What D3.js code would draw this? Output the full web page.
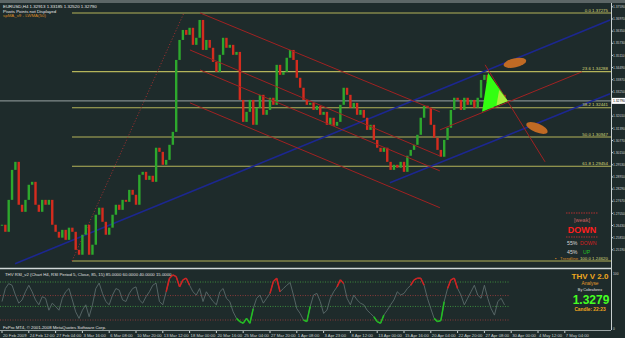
<!DOCTYPE html>
<html>
<head>
<meta charset="utf-8">
<script src="https://cdn.jsdelivr.net/npm/d3@7"></script>
<style>
body { margin: 0; background: #1e2b2b; overflow: hidden; }
svg { display: block; }
text { font-family: "Liberation Sans", Arial, sans-serif; }
</style>
</head>
<body>
<script>

// EURUSD H4 closes, one value per 8 hours
var closes = [
  1.2647, 1.2611, 1.2774, 1.2927, 1.2968, 1.2749, 1.2713, 1.2774, 1.2851, 1.2866,
  1.2749, 1.2713, 1.2774, 1.2749, 1.2774, 1.2647, 1.2611, 1.2581, 1.2621, 1.2570,
  1.2632, 1.2611, 1.2519, 1.2494, 1.2596, 1.2647, 1.2494, 1.2545, 1.2698, 1.2734,
  1.2662, 1.2596, 1.2632, 1.2698, 1.2749, 1.2723, 1.2774, 1.2764, 1.2825, 1.2800,
  1.2749, 1.2902, 1.2917, 1.2876, 1.2897, 1.2866, 1.3040, 1.3019, 1.2953, 1.2978,
  1.3055, 1.3121, 1.3488, 1.3590, 1.3641, 1.3616, 1.3652, 1.3565, 1.3601, 1.3692,
  1.3539, 1.3590, 1.3550, 1.3478, 1.3427, 1.3514, 1.3601, 1.3550, 1.3565, 1.3514,
  1.3529, 1.3284, 1.3172, 1.3223, 1.3284, 1.3157, 1.3244, 1.3310, 1.3208, 1.3233,
  1.3295, 1.3259, 1.3463, 1.3412, 1.3427, 1.3499, 1.3539, 1.3488, 1.3397, 1.3346,
  1.3284, 1.3259, 1.3269, 1.3233, 1.3254, 1.3208, 1.3223, 1.3157, 1.3193, 1.3152,
  1.3172, 1.3259, 1.3346, 1.3310, 1.3244, 1.3269, 1.3208, 1.3233, 1.3193, 1.3131,
  1.3157, 1.3080, 1.3040, 1.3019, 1.3040, 1.2968, 1.2927, 1.2953, 1.2938, 1.2968,
  1.2917, 1.2999, 1.3029, 1.3055, 1.3106, 1.3193, 1.3254, 1.3244, 1.3157, 1.3091,
  1.3029, 1.2994, 1.3080, 1.3142, 1.3233, 1.3295, 1.3284, 1.3233, 1.3295, 1.3259,
  1.3284, 1.3244, 1.3295, 1.3386, 1.3412, 1.3376, 1.3310, 1.3335, 1.3295, 1.3310,
  1.3279
];

var rsi = [
  49, 73, 82, 79, 61, 46, 52, 67, 79, 67,
  52, 43, 58, 55, 33, 46, 40, 33, 55, 67,
  73, 52, 30, 18, 33, 43, 21, 43, 73, 83,
  64, 49, 43, 61, 73, 70, 52, 49, 64, 73,
  76, 52, 46, 58, 67, 79, 83, 49, 43, 67,
  92, 98, 95, 76, 89, 92, 79, 67, 61, 73,
  49, 67, 58, 49, 43, 67, 73, 55, 49, 30,
  18, 12, 9, 18, 9, 36, 55, 61, 46, 55,
  64, 86, 92, 67, 73, 79, 84, 61, 36, 27,
  15, 12, 40, 61, 64, 49, 27, 33, 55, 67,
  76, 89, 82, 55, 43, 61, 52, 46, 43, 33,
  27, 21, 12, 9, 24, 33, 43, 52, 67, 61,
  64, 73, 79, 89, 92, 92, 79, 55, 36, 18,
  12, 14, 49, 73, 89, 92, 73, 61, 43, 55,
  67, 79, 61, 55, 79, 55, 36, 24, 49, 55,
  43
];

var timeLabels = ["20 Feb 2009", "24 Feb 12:00", "27 Feb 04:00", "3 Mar 16:00", "6 Mar 08:00",
  "10 Mar 20:00", "13 Mar 12:00", "18 Mar 00:00", "20 Mar 16:00", "25 Mar 04:00", "27 Mar 20:00",
  "1 Apr 08:00", "3 Apr 23:00", "8 Apr 12:00", "13 Apr 00:00", "15 Apr 16:00", "20 Apr 04:00",
  "22 Apr 20:00", "27 Apr 08:00", "30 Apr 00:00", "4 May 12:00", "7 May 04:00"];

var priceTicks = [1.3759, 1.3697, 1.3635, 1.3573, 1.3511, 1.3449, 1.3387, 1.3325, 1.3201,
  1.3139, 1.3077, 1.3015, 1.2953, 1.2891, 1.2829, 1.2767, 1.2705, 1.2643, 1.2581, 1.2519];

var fibLevels = [0, 23.6, 38.2, 50, 61.8, 100];
var fibHigh = 1.37275, fibLow = 1.24620;
var rsiLevels = [85, 60, 40, 15];

// hand drawn objects, in [bar index, price]
var redLines = [
  [[59.1, 1.3728], [130.7, 1.3223]],
  [[56.1, 1.3539], [130.7, 1.2998]],
  [[59.1, 1.3437], [130.7, 1.2922]],
  [[56.1, 1.3269], [130.7, 1.2734]],
  [[144.2, 1.3463], [162.1, 1.2968]],
  [[130.7, 1.3131], [173.1, 1.3427]]
];
var blueLines = [
  [[3.9, 1.2448], [181.5, 1.3692]],
  [[115.8, 1.2861], [181.5, 1.3315]]
];
var ellipses = [[153.1, 1.3473, -12], [159.7, 1.3141, 22]];
var triangle = [[145.1, 1.3422], [143.3, 1.3223], [151, 1.3279]];

var W = 625, H = 338;
var svg = d3.select('body').append('svg')
            .attr('width', W)
            .attr('height', H);

var x = d3.scaleLinear().domain([0, 168]).range([2, 564.8]);
var y = d3.scaleLinear().domain([fibLow, fibHigh]).range([261, 13]);
var yr = d3.scaleLinear().domain([15, 85]).range([320, 282]);

var axisRight = 611;

svg.append('rect').attr('width', W).attr('height', H).attr('fill', '#1e2b2b');

var main = svg.append('g');
main.append('clipPath').attr('id', 'mainClip')
    .append('rect').attr('x', 0).attr('y', 3).attr('width', axisRight).attr('height', 265);
var plot = main.append('g').attr('clip-path', 'url(#mainClip)');

// fibonacci levels
var fibStart = x(20.9);
fibLevels.forEach(function(f) {
  var p = fibHigh - f / 100 * (fibHigh - fibLow);
  plot.append('line')
      .attr('x1', fibStart).attr('x2', axisRight)
      .attr('y1', y(p)).attr('y2', y(p))
      .attr('stroke', '#b4b45a').attr('stroke-width', 1.2);
  svg.append('text')
      .attr('x', 608).attr('y', y(p) - 1.5)
      .attr('text-anchor', 'end')
      .attr('font-size', 4.4)
      .attr('fill', '#d8d878')
      .text((f === 0 ? '0.0' : f.toFixed(1)) + ' ' + p.toFixed(5));
});

// dotted fib trendline
plot.append('line')
    .attr('x1', x(20.9)).attr('y1', y(fibLow))
    .attr('x2', x(54.3)).attr('y2', y(fibHigh))
    .attr('stroke', '#a83030').attr('stroke-width', 1)
    .attr('stroke-dasharray', '1,2');

// bid line
plot.append('line')
    .attr('x1', 0).attr('x2', axisRight)
    .attr('y1', y(closes[closes.length - 1])).attr('y2', y(closes[closes.length - 1]))
    .attr('stroke', '#9aa4a4').attr('stroke-width', 1);

blueLines.forEach(function(l) {
  plot.append('line')
      .attr('x1', x(l[0][0])).attr('y1', y(l[0][1]))
      .attr('x2', x(l[1][0])).attr('y2', y(l[1][1]))
      .attr('stroke', '#1c2790').attr('stroke-width', 1.6);
});

// candles: open = previous close
plot.selectAll('rect.candle')
    .data(closes)
    .enter()
    .append('rect')
    .attr('class', 'candle')
    .attr('x', function(d, i) { return x(i) - 1.2; })
    .attr('width', 2.4)
    .attr('y', function(d, i) {
      var o = i ? closes[i - 1] : d;
      return y(Math.max(o, d));
    })
    .attr('height', function(d, i) {
      var o = i ? closes[i - 1] : d;
      return Math.max(1, Math.abs(y(o) - y(d)));
    })
    .attr('fill', function(d, i) {
      var o = i ? closes[i - 1] : d;
      return d >= o ? '#2da82d' : '#d42c1e';
    });

redLines.forEach(function(l) {
  plot.append('line')
      .attr('x1', x(l[0][0])).attr('y1', y(l[0][1]))
      .attr('x2', x(l[1][0])).attr('y2', y(l[1][1]))
      .attr('stroke', '#a02222').attr('stroke-width', 1);
});

ellipses.forEach(function(e) {
  plot.append('ellipse')
      .attr('cx', 0).attr('cy', 0).attr('rx', 11.5).attr('ry', 4.5)
      .attr('transform', 'translate(' + x(e[0]) + ',' + y(e[1]) + ') rotate(' + e[2] + ')')
      .attr('fill', '#c06a24');
});

plot.append('polygon')
    .attr('points', triangle.map(function(t) { return x(t[0]) + ',' + y(t[1]); }).join(' '))
    .attr('fill', '#33ff11');
plot.append('polygon')
    .attr('points', [[148.4, 1.3335], [147.6, 1.3256], [151, 1.3279]]
        .map(function(t) { return x(t[0]) + ',' + y(t[1]); }).join(' '))
    .attr('fill', '#c8e84a').attr('opacity', 0.8);

// top left labels
var info = [['EURUSD,H4  1.32913 1.33185 1.32520 1.32790', '#e8e8e8'],
            ['Pivots Points not Displayed', '#e8e8e8'],
            ['spMA_v9 - LWMA(50)', '#d88a28']];
info.forEach(function(t, i) {
  svg.append('text').attr('x', 3).attr('y', 8 + i * 4.6)
     .attr('font-size', 4.4).attr('fill', t[1]).text(t[0]);
});

// signal box
var box = svg.append('g');
[213, 237].forEach(function(yy) {
  box.append('line').attr('x1', 566).attr('x2', 598).attr('y1', yy).attr('y2', yy)
     .attr('stroke', '#b03030').attr('stroke-dasharray', '1.5,1');
});
box.append('text').attr('x', 582).attr('y', 222).attr('text-anchor', 'middle')
   .attr('font-size', 5.5).attr('fill', '#c86060').text('[weak]');
box.append('text').attr('x', 582).attr('y', 233).attr('text-anchor', 'middle')
   .attr('font-size', 9).attr('font-weight', 'bold').attr('fill', '#ff1e1e').text('DOWN');
box.append('text').attr('x', 567).attr('y', 245).attr('font-size', 5.2).attr('fill', '#d8d8d8').text('55%');
box.append('text').attr('x', 580).attr('y', 245).attr('font-size', 5.2).attr('fill', '#d42020').text('DOWN');
box.append('text').attr('x', 567).attr('y', 253.5).attr('font-size', 5.2).attr('fill', '#d8d8d8').text('45%');
box.append('text').attr('x', 583).attr('y', 253.5).attr('font-size', 5.2).attr('fill', '#22c022').text('UP');
box.append('text').attr('x', 555).attr('y', 259.5).attr('font-size', 4.4).attr('fill', '#d88a28').text('\u25aa');
box.append('text').attr('x', 560).attr('y', 259.5).attr('font-size', 4.4).attr('fill', '#d88a28').text('Trendline');

// price axis
svg.append('line').attr('x1', axisRight + 0.5).attr('x2', axisRight + 0.5)
   .attr('y1', 3).attr('y2', 330).attr('stroke', '#c8d0d0');
svg.selectAll('text.pt')
   .data(priceTicks)
   .enter()
   .append('text')
   .attr('class', 'pt')
   .attr('x', 613)
   .attr('y', function(d) { return y(d) + 1.2; })
   .attr('font-size', 3.3)
   .attr('fill', '#c8d0d0')
   .text(function(d) { return d.toFixed(5); });
svg.selectAll('line.pt')
   .data(priceTicks)
   .enter()
   .append('line')
   .attr('x1', axisRight).attr('x2', axisRight + 2)
   .attr('y1', function(d) { return y(d); }).attr('y2', function(d) { return y(d); })
   .attr('stroke', '#c8d0d0');
var last = closes[closes.length - 1];
svg.append('rect').attr('x', axisRight + 1).attr('y', y(last) - 3).attr('width', 13).attr('height', 6)
   .attr('fill', '#ffffff');
svg.append('text').attr('x', 613).attr('y', y(last) + 1.2).attr('font-size', 3.3)
   .attr('fill', '#000').text((last).toFixed(5));

// frames
svg.append('line').attr('x1', 0).attr('x2', W).attr('y1', 1.5).attr('y2', 1.5)
   .attr('stroke', '#5c6666').attr('stroke-width', 3);
svg.append('line').attr('x1', 0).attr('x2', axisRight).attr('y1', 268.5).attr('y2', 268.5)
   .attr('stroke', '#d0d8d8').attr('stroke-width', 1.5);
svg.append('line').attr('x1', 0).attr('x2', axisRight).attr('y1', 330.5).attr('y2', 330.5)
   .attr('stroke', '#9aa4a4');

// RSI window
var rsiG = svg.append('g');
rsiLevels.forEach(function(l, i) {
  rsiG.append('line').attr('x1', 0).attr('x2', 509)
      .attr('y1', yr(l)).attr('y2', yr(l))
      .attr('stroke', i % 2 === 0 ? '#3c8a3c' : '#8a3a3a')
      .attr('stroke-dasharray', '1,1.5');
});
var rsiLine = d3.line()
    .x(function(d, i) { return x(i); })
    .y(function(d) { return yr(d); });
rsiG.append('path').datum(rsi).attr('d', rsiLine)
    .attr('fill', 'none').attr('stroke', '#5a6a6a').attr('stroke-width', 0.9);
rsi.forEach(function(v, i) {
  if (i === 0) return;
  var a = rsi[i - 1];
  var col = null;
  if (v > 85 || a > 85) col = '#d42020';
  if (v < 15 || a < 15) col = '#22c022';
  if (!col) return;
  rsiG.append('line')
      .attr('x1', x(i - 1)).attr('y1', yr(a))
      .attr('x2', x(i)).attr('y2', yr(v))
      .attr('stroke', col).attr('stroke-width', 1.5);
});
rsiG.append('text').attr('x', 5).attr('y', 275.5).attr('font-size', 4.3).attr('fill', '#e0e0e0')
    .text('THV RSI_v2  (Chart H4, RSI Period 5, Close, 85, 15)  85.0000 60.0000 40.0000 15.0000');
rsiG.append('text').attr('x', 613).attr('y', 275).attr('font-size', 3.3).attr('fill', '#c8d0d0').text('100');
rsiG.append('text').attr('x', 613).attr('y', 330).attr('font-size', 3.3).attr('fill', '#c8d0d0').text('0');

// THV panel
rsiG.append('text').attr('x', 590).attr('y', 279).attr('text-anchor', 'middle')
    .attr('font-size', 8).attr('font-weight', 'bold').attr('fill', '#f0a81e').text('THV V 2.0');
rsiG.append('text').attr('x', 590).attr('y', 284.5).attr('text-anchor', 'middle')
    .attr('font-size', 4.8).attr('fill', '#e09a2a').text('Analyse');
rsiG.append('text').attr('x', 590).attr('y', 290.5).attr('text-anchor', 'middle')
    .attr('font-size', 3.8).attr('fill', '#e0e0e0').text('By Cobraforex');
rsiG.append('text').attr('x', 591).attr('y', 304).attr('text-anchor', 'middle')
    .attr('font-size', 12).attr('font-weight', 'bold').attr('fill', '#44ff22').text(last.toFixed(4));
rsiG.append('text').attr('x', 590).attr('y', 311).attr('text-anchor', 'middle')
    .attr('font-size', 4.8).attr('font-weight', 'bold').attr('fill', '#f0a81e').text('Candle:  22:23');

svg.append('text').attr('x', 3).attr('y', 329).attr('font-size', 4.3).attr('fill', '#e0e0e0')
   .text('FxPro MT4, \u00a9 2001-2008 MetaQuotes Software Corp.');

// time axis
timeLabels.forEach(function(t, k) {
  var xx = x(k * 8);
  svg.append('line').attr('x1', xx).attr('x2', xx).attr('y1', 331).attr('y2', 333)
     .attr('stroke', '#c8d0d0');
  svg.append('text').attr('x', xx + 1).attr('y', 336.5).attr('font-size', 4.2)
     .attr('fill', '#c8d0d0').text(t);
});

</script>
</body>
</html>
